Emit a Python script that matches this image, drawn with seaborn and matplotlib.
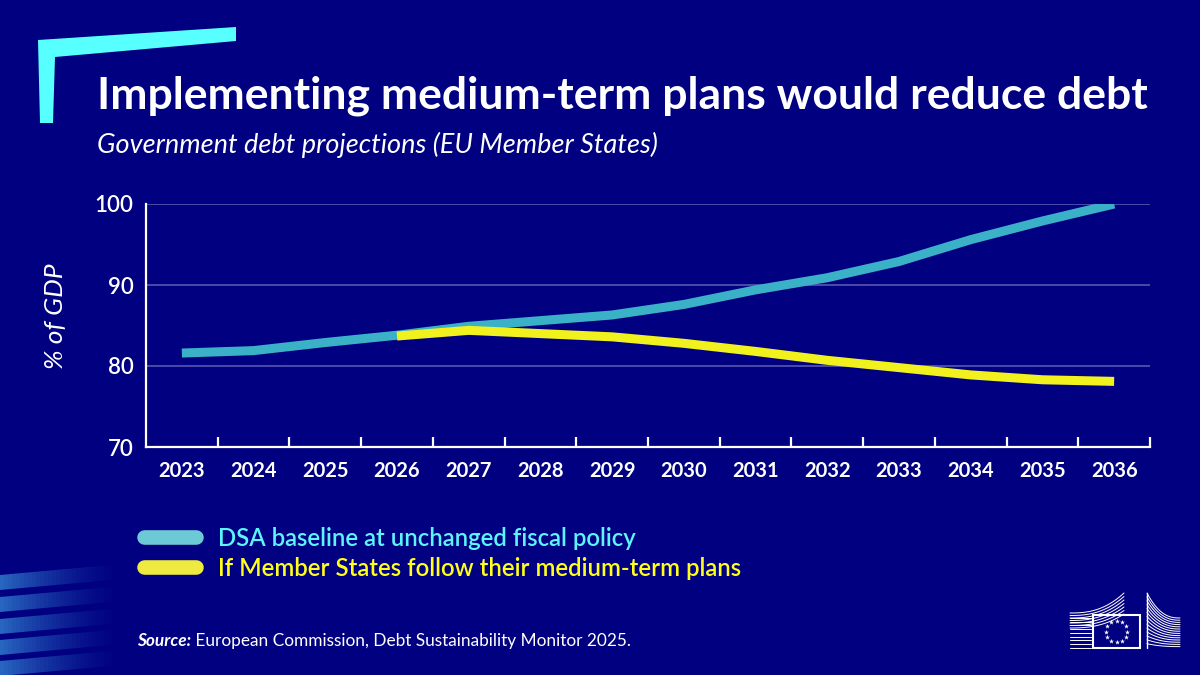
import numpy as np
import pandas as pd
import seaborn as sns
import matplotlib.pyplot as plt
from matplotlib.patches import Polygon, Rectangle

# ---- data ----
years = ['2023', '2024', '2025', '2026', '2027', '2028', '2029',
         '2030', '2031', '2032', '2033', '2034', '2035', '2036']
baseline = [81.6, 81.9, 82.9, 83.8, 84.9, 85.6, 86.3,
            87.6, 89.4, 90.9, 92.9, 95.6, 97.9, 100.0]
plan_years = years[3:]
plan = [83.7, 84.4, 84.0, 83.6, 82.8, 81.8, 80.7, 79.8, 78.9, 78.3, 78.1]

labels = ['DSA baseline at unchanged fiscal policy',
          'If Member States follow their medium-term plans']
yticks = [70, 80, 90, 100]

navy = '#000080'
line_colors = ['#3bb1c8', '#f1f11e']
swatch_colors = ['#6ccad6', '#eeea40']
text_colors = ['#5cf5ff', '#ffff1a']

df = pd.concat([
    pd.DataFrame({'year': years, 'debt': baseline, 'series': labels[0]}),
    pd.DataFrame({'year': plan_years, 'debt': plan, 'series': labels[1]}),
])

sns.set_style('white')
plt.rcParams['font.family'] = ['Lato', 'DejaVu Sans']

fig = plt.figure(figsize=(12, 6.75), dpi=100, facecolor=navy)
ax = fig.add_axes([146 / 1200, 1 - 447 / 675, (1150 - 146) / 1200, (447 - 204) / 675])
ax.set_facecolor(navy)

sns.lineplot(data=df, x='year', y='debt', hue='series', palette=line_colors,
             linewidth=6.5, sort=False, legend=False, ax=ax, zorder=3)
for ln in ax.lines:
    ln.set_solid_capstyle('butt')
    ln.set_solid_joinstyle('round')

ax.set_ylim(70, 100)
ax.set_xlim(-0.5, len(years) - 0.5)
ax.set_yticks(yticks)
ax.set_xticks(range(len(years)))
ax.set_xticklabels(years)
ax.set_xticks(np.arange(0.5, len(years), 1), minor=True)
for y in yticks[1:]:
    ax.axhline(y, color='#5757ae', lw=1.2, zorder=1)

for s in ['top', 'right']:
    ax.spines[s].set_visible(False)
for s in ['left', 'bottom']:
    ax.spines[s].set_color('white')
    ax.spines[s].set_linewidth(1.6)

ax.tick_params(axis='x', which='major', length=0, pad=10, colors='white',
               labelsize=14.5)
ax.tick_params(axis='x', which='minor', length=7, width=1.6, direction='in',
               color='white', bottom=True)
ax.tick_params(axis='y', length=0, pad=9, colors='white', labelsize=16)
for t in ax.get_xticklabels():
    t.set_fontweight('bold')
for t in ax.get_yticklabels():
    t.set_fontweight('semibold')
ax.set_xlabel('')
ax.set_ylabel('')

# ---- overlay in pixel coordinates for text and decorations ----
ov = fig.add_axes([0, 0, 1, 1], facecolor='none')
ov.set_xlim(0, 1200)
ov.set_ylim(675, 0)
ov.axis('off')

ov.add_patch(Polygon([(38, 40), (236, 27), (236, 41), (55, 57), (53, 123), (40, 123)],
                     closed=True, color='#57ffff', lw=0))

ov.text(97, 108, 'Implementing medium-term plans would reduce debt',
        color='white', fontsize=32, fontweight='bold', va='baseline', ha='left')
ov.text(97, 153, 'Government debt projections (EU Member States)',
        color='white', fontsize=19.5, style='italic', va='baseline', ha='left')
ov.text(55, 316, '% of GDP', color='white', fontsize=19, style='italic',
        rotation=90, va='center', ha='center')

# legend
for i, (lab, sc, tc) in enumerate(zip(labels, swatch_colors, text_colors)):
    yy = 537 + 30 * i
    ov.plot([144, 196], [yy, yy], color=sc, lw=10.5, solid_capstyle='round')
    ov.text(218, yy + 1, lab, color=tc, fontsize=17.2, fontweight='semibold',
            va='center', ha='left')

# source line
src = ov.text(137, 646, 'Source:', color='white', fontsize=12.4, fontweight='bold',
              style='italic', va='baseline', ha='left')
ov.annotate(' European Commission, Debt Sustainability Monitor 2025.', xy=(1, 0),
            xycoords=src, va='bottom', ha='left', color='white', fontsize=12.4)

# fading stripes bottom-left
for top in [575, 597, 619, 640, 661]:
    n = 30
    for k in range(n):
        x0, x1 = k * 4, (k + 1) * 4
        a = 0.85 * (1 - k / n) ** 1.5
        ov.add_patch(Polygon([(x0, top - x0 * 0.09), (x1, top - x1 * 0.09),
                              (x1, top + 15 - x1 * 0.09), (x0, top + 15 - x0 * 0.09)],
                             closed=True, color='#2f78cc', alpha=a, lw=0))

# EU logo (simplified)
ov.add_patch(Rectangle((1093, 615), 47, 33, fill=False, ec='white', lw=1.5))
ang = np.linspace(0, 2 * np.pi, 13)[:-1]
ov.scatter(1116.5 + 10.5 * np.cos(ang), 631.5 + 10.5 * np.sin(ang), marker='*',
           s=14, color='white', lw=0)
for k in range(7):
    xs = np.linspace(1070, 1124, 30)
    t = (xs - 1070) / 54
    ys = (613 + k * 2.5) + ((593 + k * 3.5) - (613 + k * 2.5)) * t ** 2.5
    ov.plot(xs, ys, color='white', lw=0.7)
for k in range(9):
    yy = 618 + k * 3.7
    ov.plot([1070, 1091], [yy, yy], color='white', lw=0.7)
for k in range(14):
    xs = np.linspace(1147, 1180, 30)
    t = (xs - 1147) / 33
    y0 = 593 + k * 3.9
    y1 = 618 + k * 2.2
    ys = y0 + (y1 - y0) * (1 - (1 - t) ** 2.5)
    ov.plot(xs, ys, color='white', lw=0.7)
ov.plot([1147, 1147], [593, 648], color='white', lw=1.0)

fig.savefig('out.png', dpi=100, facecolor=navy)
